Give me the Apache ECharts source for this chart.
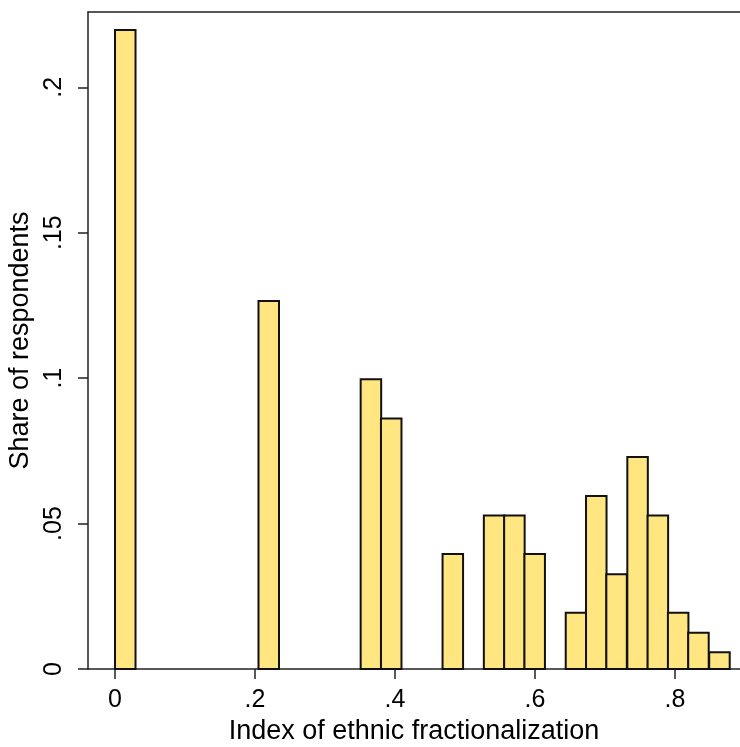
<!DOCTYPE html>
<html>
<head>
<meta charset="utf-8">
<title>Ethnic fractionalization histogram</title>
<script src="https://cdn.jsdelivr.net/npm/echarts@6/dist/echarts.min.js"></script>
<style>
  html, body { margin: 0; padding: 0; background: #fff; }
  #chart { width: 740px; height: 747px; }
</style>
</head>
<body>
<div id="chart"></div>
<script>
// lower edge of each non-empty bin and its share of respondents
var binWidth = 0.0293;
var binStart = [0, 0.205, 0.351, 0.380, 0.468, 0.527, 0.556, 0.585,
                0.644, 0.673, 0.702, 0.732, 0.761, 0.790, 0.819, 0.849];
var share = [0.2197, 0.1265, 0.0996, 0.0861, 0.0395, 0.0528, 0.0528, 0.0395,
             0.0193, 0.0595, 0.0326, 0.0729, 0.0528, 0.0193, 0.0125, 0.0058];
var xTicks = [0, 0.2, 0.4, 0.6, 0.8];
var yTicks = [0, 0.05, 0.1, 0.15, 0.2];

var font = '"Liberation Sans", Arial, Helvetica, sans-serif';

// stata style labels: .2 instead of 0.2
function stataLabel(v) {
	var s = String(+(+v).toFixed(3));
	return s === '0' ? '0' : s.replace(/^0/, '');
}

var chart = echarts.init(document.getElementById('chart'));

var rows = binStart.map(function (x0, i) {
	return [x0, x0 + binWidth, share[i]];
});

var option = {
	animation: false,
	grid: { left: 88, right: 0, top: 12, bottom: 78, outerBoundsMode: 'none' },
	xAxis: [{
		type: 'value',
		min: -0.0386,
		max: 0.893,
		name: 'Index of ethnic fractionalization',
		nameLocation: 'middle',
		nameGap: 49,
		nameTextStyle: { color: '#000', fontSize: 27, fontFamily: font },
		splitLine: { show: false },
		axisLine: { show: true, onZero: false, lineStyle: { color: '#222', width: 1.5 } },
		axisTick: { show: true, length: 10, customValues: xTicks, lineStyle: { color: '#222', width: 1.5 } },
		axisLabel: {
			customValues: xTicks,
			formatter: stataLabel,
			color: '#000', fontSize: 25, fontFamily: font, margin: 19
		}
	}, {
		// top frame line
		type: 'value',
		position: 'top',
		min: -0.0386,
		max: 0.893,
		splitLine: { show: false },
		axisLine: { show: true, onZero: false, lineStyle: { color: '#222', width: 1.5 } },
		axisTick: { show: false },
		axisLabel: { show: false }
	}],
	yAxis: {
		type: 'value',
		min: 0,
		max: 0.2259,
		name: 'Share of respondents',
		nameLocation: 'middle',
		nameRotate: 90,
		nameGap: 50,
		nameTextStyle: { color: '#000', fontSize: 27, fontFamily: font },
		splitLine: { show: false },
		axisLine: { show: true, onZero: false, lineStyle: { color: '#222', width: 1.5 } },
		axisTick: { show: true, length: 10, customValues: yTicks, lineStyle: { color: '#222', width: 1.5 } },
		axisLabel: {
			customValues: yTicks,
			formatter: stataLabel,
			rotate: 90,
			color: '#000', fontSize: 25, fontFamily: font, margin: 21
		}
	},
	series: [{
		type: 'custom',
		xAxisIndex: 0,
		data: rows,
		renderItem: function (params, api) {
			var p0 = api.coord([api.value(0), api.value(2)]);
			var p1 = api.coord([api.value(1), 0]);
			return {
				type: 'rect',
				shape: { x: p0[0], y: p0[1], width: p1[0] - p0[0], height: p1[1] - p0[1] },
				style: { fill: '#ffe680', stroke: '#111', lineWidth: 2 }
			};
		}
	}]
};

chart.setOption(option);
</script>
</body>
</html>
